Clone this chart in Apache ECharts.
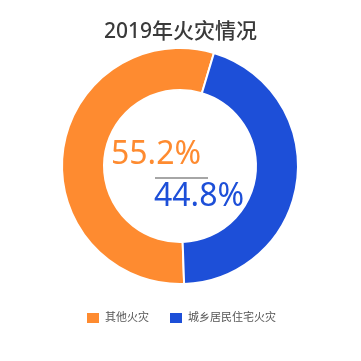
<!DOCTYPE html>
<html><head><meta charset="utf-8">
<script src="https://cdn.jsdelivr.net/npm/echarts@6/dist/echarts.min.js"></script>
<style>html,body{margin:0;padding:0;background:#fff}#c{width:361px;height:361px}</style>
</head><body><div id="c"></div>
<script>
const titleText = '2019年火灾情况';
const categories = ['其他火灾', '城乡居民住宅火灾'];
const values = [55.2, 44.8];
const colors = ['#FE8B30', '#1D4FD8'];

const chart = echarts.init(document.getElementById('c'));
const font = "'Noto Sans', 'Noto Sans CJK SC', sans-serif";
chart.setOption({
  animation: false,
  backgroundColor: '#fff',
  color: colors,
  title: {
    text: titleText, left: 'center', top: 17,
    textStyle: { fontSize: 21, fontWeight: 500, color: '#3a3a3a', fontFamily: font }
  },
  legend: {
    bottom: 31, left: 'center', itemWidth: 14, itemHeight: 12, itemGap: 19,
    icon: 'rect',
    textStyle: { fontSize: 11, color: '#555', fontFamily: font },
    data: categories
  },
  series: [{
    type: 'pie',
    center: [180, 166],
    radius: [76, 118],
    startAngle: 272,
    clockwise: true,
    label: { show: false },
    labelLine: { show: false },
    itemStyle: { borderColor: '#fff', borderWidth: 2 },
    data: categories.map((n, i) => ({ name: n, value: values[i] }))
  }],
  graphic: [
    { type: 'text', left: 111, top: 139,
      style: { text: values[0].toFixed(1) + '%', fontSize: 32, fill: colors[0], fontFamily: font } },
    { type: 'line', shape: { x1: 155, y1: 178, x2: 208, y2: 178 },
      style: { stroke: '#888', lineWidth: 1.5 } },
    { type: 'text', left: 154, top: 181,
      style: { text: values[1].toFixed(1) + '%', fontSize: 32, fill: colors[1], fontFamily: font } }
  ]
});
</script></body></html>
